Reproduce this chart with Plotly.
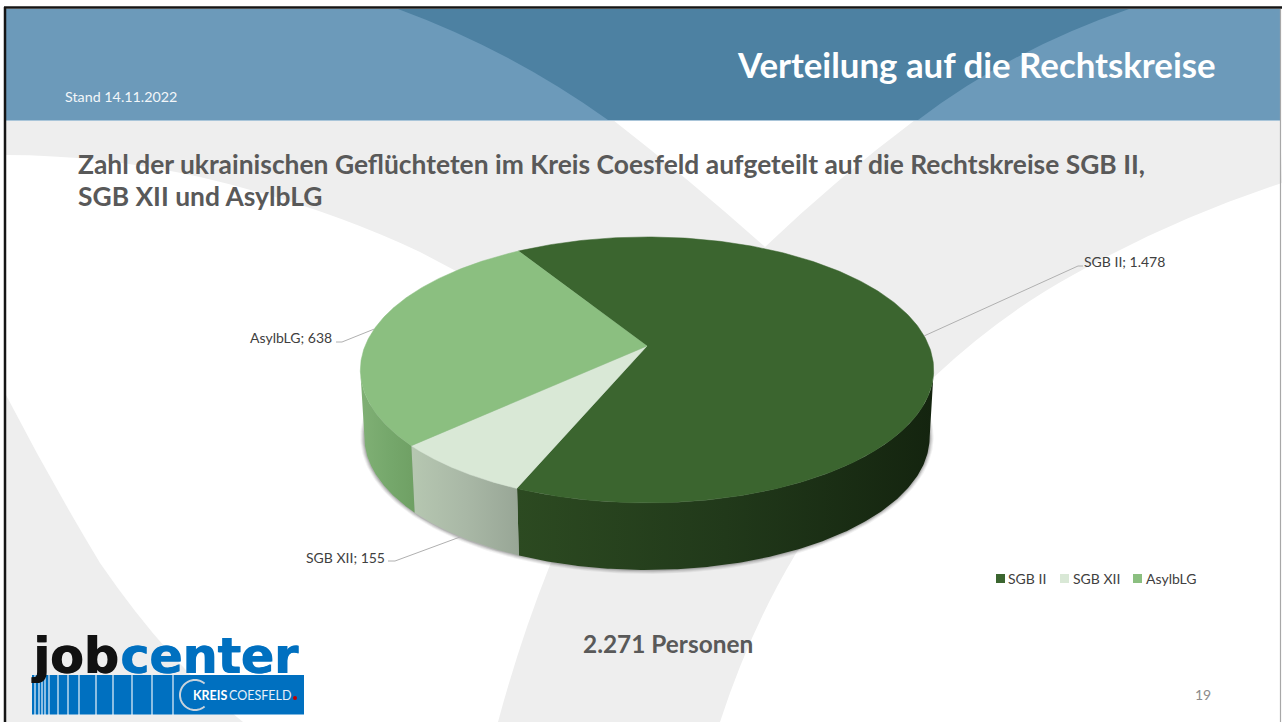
import numpy as np
import plotly.graph_objects as go

# ---------- data ----------
categories = ["SGB II", "SGB XII", "AsylbLG"]
values = [1478, 155, 638]
top_colors = ["#3b652f", "#d9e8d6", "#8bbf80"]
side_gradients = [
    ["#2c4a21", "#21391a", "#14240f"],
    ["#b6c7b1", "#a9b8a6", "#98a696"],
    ["#80b075", "#76a86c", "#6fa064"],
]
chart_title = ["Zahl der ukrainischen Geflüchteten im Kreis Coesfeld aufgeteilt auf die Rechtskreise SGB II,",
               "SGB XII und AsylbLG"]
slide_title = "Verteilung auf die Rechtskreise"
stand = "Stand 14.11.2022"
page_no = "19"

FONT = "Lato, Carlito, Calibri, sans-serif"
GREY = "#eeeeee"

# ---------- pie projection (screen = pixel space of the slide) ----------
CX, CY = 647, 346          # apex
R, B, K = 282, 128.7, 0.18 # perspective
DEPTH = 67
ROT = -31.7                # first slice angle, degrees clockwise from 12 o'clock
BASE_SCALE = 283 / 287


def top(theta):
    t = np.radians(theta)
    u, v = np.sin(t), -np.cos(t)
    w = 1 - K * v
    return CX + R * u / w, CY + B * v / w


def base(theta):
    x, y = top(theta)
    return CX + (x - CX) * BASE_SCALE, y + DEPTH


def german(n):
    return f"{n:,}".replace(",", ".")


fig = go.Figure()
total = sum(values)
edges = np.concatenate([[0], np.cumsum(values)]) / total * 360 + ROT
right_ext = np.degrees(np.arccos(-K))
left_ext = 360 - right_ext

# soft shadow under the base
full = np.linspace(0, 360, 361)
bx, by = base(full)
for grow, alpha in [(4, .05), (3, .07), (2, .09), (1, .12)]:
    fig.add_trace(go.Scatter(x=CX + (bx - CX) * (1 + grow / 283), y=437 + (by - 437) * (1 + grow / 133),
                             mode="lines", fill="toself", line=dict(width=0),
                             fillcolor=f"rgba(0,0,0,{alpha})", hoverinfo="skip", showlegend=False))

# sides (only the part of the rim that faces the viewer)
for i, name in enumerate(categories):
    a0, a1 = max(edges[i], right_ext), min(edges[i + 1], left_ext)
    if a1 <= a0:
        continue
    th = np.linspace(a0, a1, 200)
    tx, ty = top(th)
    ux, uy = base(th)
    sc = [[j / 2, c] for j, c in enumerate(side_gradients[i])]
    fig.add_trace(go.Scatter(x=np.r_[tx, ux[::-1]], y=np.r_[ty, uy[::-1]], mode="lines", fill="toself",
                             line=dict(width=0), fillgradient=dict(type="horizontal", colorscale=sc),
                             hoverinfo="skip", showlegend=False))

# top faces
for i, name in enumerate(categories):
    th = np.linspace(edges[i], edges[i + 1], 300)
    tx, ty = top(th)
    fig.add_trace(go.Scatter(x=np.r_[CX, tx, CX], y=np.r_[CY, ty, CY], mode="lines", fill="toself",
                             line=dict(width=0.5, color=top_colors[i]), fillcolor=top_colors[i],
                             name=name, text=f"{name}; {german(values[i])}", hoverinfo="text", showlegend=False))

# leader lines, anchored at each slice's mid angle
label_pos = [(1082, 261, "left", (1078, 266), (1083, 266), False),
             (387, 557, "right", (395, 561), (388, 561), True),
             (334, 337, "right", (342, 342), (336, 342), False)]
annotations = []
for i, name in enumerate(categories):
    mid = (edges[i] + edges[i + 1]) / 2
    lx, ly, anc, elbow, end, on_base = label_pos[i]
    sx, sy = base(mid) if on_base else top(mid)
    fig.add_trace(go.Scatter(x=[float(sx), elbow[0], end[0]], y=[float(sy), elbow[1], end[1]], mode="lines",
                             line=dict(color="#b0b0b0", width=1), hoverinfo="skip", showlegend=False))
    annotations.append(dict(x=lx, y=ly, text=f"{name}; {german(values[i])}", xanchor=anc, yanchor="middle",
                            showarrow=False, font=dict(family=FONT, size=14, color="#404040")))

# legend
legend_sw = [996, 1060, 1133]
legend_tx = [1006, 1071, 1144]
shapes = []


def txt(x, y, s, size, color, anc="left", bold=False, family=FONT, shadow=None):
    f = dict(family=family, size=size, color=color)
    if shadow:
        f["shadow"] = shadow
    annotations.append(dict(x=x, y=y, text=f"<b>{s}</b>" if bold else s, xanchor=anc, yanchor="middle",
                            showarrow=False, font=f))


for i, name in enumerate(categories):
    shapes.append(dict(type="rect", x0=legend_sw[i], x1=legend_sw[i] + 9, y0=574, y1=583, fillcolor=top_colors[i],
                       line=dict(width=0), layer="above"))
    txt(legend_tx[i], 578, name, 14, "#404040")


def area(d, color, layer="below"):
    shapes.append(dict(type="path", path=d, fillcolor=color, line=dict(width=0), layer=layer))


# ---------- slide background ----------
area("M6,120 L613,120 Q690,180 765,247 L700,400 L420,252 Q320,205 200,177 Q100,155 6,155 Z", GREY)
area("M915,120 Q835,180 765,247 Q620,400 550,565 Q520,640 498,722 L720,722 Q750,630 795,555 "
     "Q860,450 934,377 Q1000,315 1073,275 Q1170,220 1282,183 L1280,120 Z", GREY)
area("M6,395 Q50,480 100,563 Q170,665 243,722 L6,722 Z", GREY)

# header
area("M6,9 L1280,9 L1280,120 L6,120 Z", "#6c9aba")
area("M398,9 Q510,50 608,120 L918,120 Q1010,50 1129,9 Z", "#4d81a2")
shapes.append(dict(type="line", x0=6, x1=1280, y0=120.5, y1=120.5, line=dict(color="#a9c5d9", width=1), layer="below"))
# frame
shapes.append(dict(type="line", x0=4, x1=1282, y0=7.5, y1=7.5, line=dict(color="#151515", width=2.5), layer="below"))
shapes.append(dict(type="line", x0=5, x1=5, y0=7, y1=722, line=dict(color="#151515", width=2.5), layer="below"))
shapes.append(dict(type="line", x0=1280.5, x1=1280.5, y0=9, y1=722, line=dict(color="#a8a8a8", width=1.2), layer="below"))

# ---------- logo ----------
BLUE = "#0070c0"
shapes.append(dict(type="rect", x0=32, x1=304, y0=675, y1=714.5, fillcolor=BLUE, line=dict(width=0), layer="above"))
for sx in [35, 39, 42, 45, 49, 58, 68, 79, 96, 113, 132, 152, 173]:
    shapes.append(dict(type="line", x0=sx, x1=sx, y0=675, y1=715, line=dict(color="white", width=1.1), layer="above"))
arc = np.radians(np.linspace(50, 310, 40))
arc_path = "M" + " L".join(f"{195 + 15 * np.cos(a):.1f},{695 + 15 * np.sin(a):.1f}" for a in arc)
shapes.append(dict(type="path", path=arc_path, line=dict(color="#c9d3dc", width=2),
                   fillcolor="rgba(0,0,0,0)", layer="above"))
shapes.append(dict(type="circle", x0=293, x1=297, y0=696, y1=700, fillcolor="#c00000", line=dict(width=0), layer="above"))

# ---------- texts ----------
txt(63, 96, stand, 14.3, "#f2f6f9")
txt(1218, 64, f"<b>{slide_title}</b>", 34.8, "white", anc="right")
txt(76, 164, chart_title[0], 26.4, "#595959", bold=True)
txt(76, 196, chart_title[1], 26.4, "#595959", bold=True)
txt(667.5, 643, f"{german(total)} Personen", 24.4, "#595959", anc="center", bold=True)
txt(1203, 694, page_no, 14, "#8c8c8c", anc="center")
txt(29, 656, "job", 49, "#111111", bold=True, family="DejaVu Sans", shadow="1px 0 0 #111111")
txt(118, 656, "center", 49, BLUE, bold=True, family="DejaVu Sans", shadow="1px 0 0 #0070c0")
txt(191, 695, "<b>KREIS</b>", 12.5, "white")
txt(227, 695, "COESFELD", 12.5, "#e8f0f8")

fig.update_layout(
    width=1282, height=722, margin=dict(l=0, r=0, t=0, b=0),
    paper_bgcolor="white", plot_bgcolor="white", showlegend=False,
    xaxis=dict(range=[0, 1282], visible=False, fixedrange=True),
    yaxis=dict(range=[722, 0], visible=False, fixedrange=True),
    shapes=shapes, annotations=annotations,
)
fig.write_html("out.html", config={"displayModeBar": False},
               post_script="document.body.style.margin='0';document.body.style.overflow='hidden';")
